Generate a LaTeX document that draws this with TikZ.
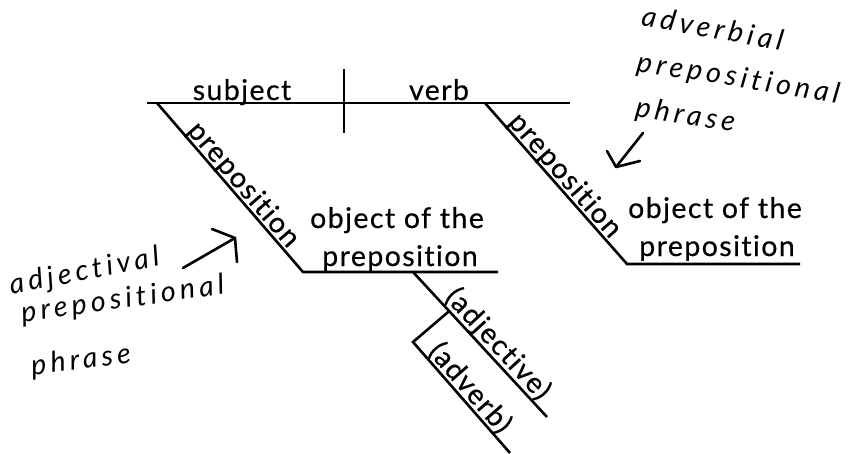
\documentclass[tikz,border=0pt]{standalone}
\usepackage{fontspec}
\usetikzlibrary{calc}
\setmainfont{Lato}[LetterSpace=5, Ligatures={NoCommon}, FakeBold=0.5]
\newfontfamily\handfont{Lato}[LetterSpace=15, Ligatures={NoCommon}]
\begin{document}
\begin{tikzpicture}[x=1pt,y=-1pt,
  rule/.style={line width=2.6pt},
  arrowline/.style={line width=2.6pt, line cap=round, line join=round},
  lbl/.style={font=\fontsize{28.5}{30}\selectfont, inner sep=0pt},
  hw/.style={font=\handfont\itshape\fontsize{28.5}{30}\selectfont, inner sep=0pt}]
\path[use as bounding box] (0,0) rectangle (855,453);

% coordinates
\coordinate (L0) at (147,103);
\coordinate (R0) at (570,103);
\coordinate (V0) at (344,69);
\coordinate (V1) at (344,133);
\coordinate (D1a) at (157,103);
\coordinate (D1b) at (303,272);
\coordinate (H1b) at (498,272);
\coordinate (D2a) at (485,103);
\coordinate (D2b) at (627,264);
\coordinate (H2b) at (800,264);
\coordinate (D3a) at (413,272);
\coordinate (D3b) at (547,417);
\coordinate (D4a) at ($(D3a)!0.27!(D3b)$);
\coordinate (D4b) at (413,342);
\coordinate (D4c) at (510,453);

% diagram lines
\draw[rule] (L0) -- (R0);
\draw[rule] (V0) -- (V1);
\draw[rule] (D1a) -- (D1b) -- (H1b);
\draw[rule] (D2a) -- (D2b) -- (H2b);
\draw[rule] (D3a) -- (D3b);
\draw[rule] (D4a) -- (D4b) -- (D4c);

% labels
\node[lbl, anchor=base] (subj) at (242,100) {subject};
\node[lbl, anchor=base] (verb) at (439,100) {verb};
\path (D1a) -- (D1b) node[lbl, sloped, above=-1.5pt, pos=0.53] (prep1) {preposition};
\path (D2a) -- (D2b) node[lbl, sloped, above=-1.5pt, pos=0.5] (prep2) {preposition};
\node[lbl, anchor=base] (obj1) at (397,228) {object of the};
\node[lbl, anchor=base] (pob1) at (400,266) {preposition};
\node[lbl, anchor=base] (obj2) at (715,218) {object of the};
\node[lbl, anchor=base] (pob2) at (717,256) {preposition};
\path (D3a) -- (D3b) node[lbl, sloped, above=-0.5pt, pos=0.56] (adj) {(adjective)};
\path (D4b) -- (D4c) node[lbl, sloped, above=-0.5pt, pos=0.49] (adv) {(adverb)};

% handwritten notes
\node[hw, anchor=base, rotate=-10] (n1) at (711,38) {adverbial};
\node[hw, anchor=base, rotate=-9] (n2) at (737,87) {prepositional};
\node[hw, anchor=base, rotate=-9] (n3) at (684,124) {phrase};
\node[hw, anchor=base, rotate=11] (m1) at (86,280) {adjectival};
\node[hw, anchor=base, rotate=8] (m2) at (124,308) {prepositional};
\node[hw, anchor=base, rotate=7] (m3) at (82,369) {phrase};

% hand-drawn arrows
\coordinate (a1t) at (183,268);
\coordinate (a1h) at (235,238);
\coordinate (a1l) at (212,229);
\coordinate (a1r) at (237,262);
\draw[arrowline] (a1t) -- (a1h);
\draw[arrowline] (a1l) -- (a1h) -- (a1r);
\coordinate (a2t) at (643,133);
\coordinate (a2h) at (616,167);
\coordinate (a2l) at (607,151);
\coordinate (a2r) at (640,161);
\draw[arrowline] (a2t) -- (a2h);
\draw[arrowline] (a2l) -- (a2h) -- (a2r);
\end{tikzpicture}
\end{document}
